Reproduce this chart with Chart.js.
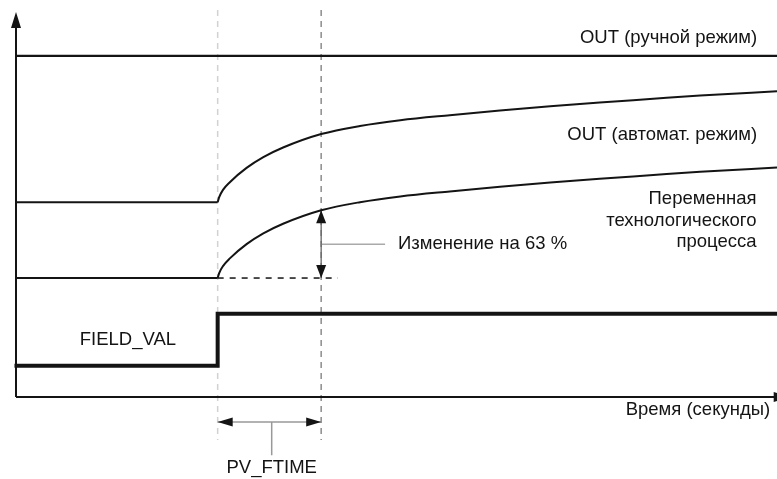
<!DOCTYPE html>
<html>
<head>
<meta charset="utf-8">
<script src="https://cdn.jsdelivr.net/npm/chart.js@4.4.0/dist/chart.umd.min.js"></script>
<style>
  html, body { margin: 0; padding: 0; background: #fff; }
  #wrap { width: 777px; height: 479px; position: relative; }
</style>
</head>
<body>
<div id="wrap"><canvas id="chart"></canvas></div>
<script>
// time axis (arbitrary units, 0..100) and value axis (0..100)
const stepTime = 26.5;      // FIELD_VAL step
const filterTime = 40.1;    // step + PV_FTIME
const endTime = 100;

const outManualLevel = 88.6;
const outAutoStart = 50.6;
const pvStart = 30.9;
const fieldValLow = 8.1;
const fieldValHigh = 21.6;

// response curves after the step
const curveTimes    = [26.5, 26.7, 27.2, 28.1, 30.3, 32.5, 35.1, 40.1, 45.2, 50.5, 57.0, 63.6, 70.2, 76.7, 83.3, 89.9, 100];
const outAutoValues = [50.6, 51.9, 53.8, 55.8, 59.5, 62.3, 64.8, 68.3, 70.4, 71.9, 73.2, 74.4, 75.5, 76.5, 77.4, 78.3, 79.4];
const pvValues      = [30.9, 32.2, 34.0, 36.0, 39.7, 42.5, 45.0, 48.5, 50.6, 52.1, 53.4, 54.6, 55.7, 56.7, 57.6, 58.5, 59.6];

const ink = "#141414";
const font = "18.5px 'Liberation Sans', Arial, sans-serif";

const pts = (xs, ys) => xs.map((x, i) => ({ x, y: ys[i] }));
const pvAtFilter = pvValues[curveTimes.indexOf(filterTime)];

function line(data, color, width, extra) {
  return Object.assign({
    data, borderColor: color, borderWidth: width, pointRadius: 0,
    fill: false, tension: 0, clip: false,
  }, extra || {});
}

const datasets = [
  // axes
  line([{ x: 0, y: 0 }, { x: 0, y: 98 }], ink, 2),
  line([{ x: 0, y: 0 }, { x: endTime, y: 0 }], ink, 2),
  // OUT manual
  line([{ x: 0, y: outManualLevel }, { x: endTime, y: outManualLevel }], ink, 2.2),
  // OUT auto
  line([{ x: 0, y: outAutoStart }, { x: stepTime, y: outAutoStart }], ink, 2),
  line(pts(curveTimes, outAutoValues), ink, 2, { cubicInterpolationMode: "monotone" }),
  // process variable
  line([{ x: 0, y: pvStart }, { x: stepTime, y: pvStart }], ink, 2),
  line(pts(curveTimes, pvValues), ink, 2, { cubicInterpolationMode: "monotone" }),
  // FIELD_VAL step
  line([{ x: -0.2, y: fieldValLow }, { x: stepTime, y: fieldValLow },
        { x: stepTime, y: fieldValHigh }, { x: endTime, y: fieldValHigh }], ink, 4),
  // 63 % marker
  line([{ x: filterTime, y: pvStart }, { x: filterTime, y: pvAtFilter }], "#666", 1.3),
  line([{ x: filterTime, y: 39.7 }, { x: 48.5, y: 39.7 }], "#aaa", 1.5),
  line([{ x: stepTime, y: pvStart }, { x: 42.3, y: pvStart }], ink, 1.5, { borderDash: [6, 6] }),
  // PV_FTIME span
  line([{ x: stepTime, y: -6.5 }, { x: filterTime, y: -6.5 }], "#999", 1.5),
  line([{ x: 33.6, y: -6.5 }, { x: 33.6, y: -15.1 }], "#999", 1.5),
  // dashed guides
  line([{ x: stepTime, y: 100.5 }, { x: stepTime, y: -11.2 }], "#d2d2d2", 1.5, { borderDash: [6, 5] }),
  line([{ x: filterTime, y: 100.5 }, { x: filterTime, y: -11.2 }], "#8c8c8c", 1.5, { borderDash: [6, 5] }),
];

function arrowHead(ctx, x, y, dx, dy, len, half) {
  // tip at (x,y), pointing in direction (dx,dy)
  const bx = x - dx * len, by = y - dy * len;
  ctx.beginPath();
  ctx.moveTo(x, y);
  ctx.lineTo(bx - dy * half, by + dx * half);
  ctx.lineTo(bx + dy * half, by - dx * half);
  ctx.closePath();
  ctx.fill();
}

const annotations = {
  id: "annotations",
  afterDatasetsDraw(chart) {
    const { ctx, scales: { x, y } } = chart;
    const px = (v) => x.getPixelForValue(v);
    const py = (v) => y.getPixelForValue(v);
    ctx.save();
    ctx.fillStyle = ink;
    // axis arrows
    arrowHead(ctx, px(0), py(100), 0, -1, 16, 5);
    arrowHead(ctx, px(101.8), py(0), 1, 0, 17, 5);
    // 63 % arrows
    arrowHead(ctx, px(filterTime), py(pvAtFilter), 0, -1, 13, 5);
    arrowHead(ctx, px(filterTime), py(pvStart), 0, 1, 13, 5);
    // PV_FTIME arrows
    arrowHead(ctx, px(stepTime), py(-6.5), -1, 0, 15, 4.5);
    arrowHead(ctx, px(filterTime), py(-6.5), 1, 0, 15, 4.5);

    ctx.font = font;
    ctx.textBaseline = "middle";
    ctx.textAlign = "right";
    ctx.fillText("OUT (ручной режим)", px(97.4), py(93.2));
    ctx.fillText("OUT (автомат. режим)", px(97.4), py(68.1));
    ctx.fillText("Переменная", px(97.3), py(51.4));
    ctx.fillText("технологического", px(97.3), py(45.7));
    ctx.fillText("процесса", px(97.3), py(40.3));
    ctx.fillText("Время (секунды)", px(99.1), py(-3.4));
    ctx.textAlign = "left";
    ctx.fillText("Изменение на 63 %", px(50.2), py(39.7));
    ctx.textAlign = "center";
    ctx.fillText("FIELD_VAL", px(14.7), py(14.8));
    ctx.fillText("PV_FTIME", px(33.6), py(-18.4));
    ctx.restore();
  },
};

new Chart(document.getElementById("chart"), {
  type: "line",
  data: { datasets },
  options: {
    responsive: true,
    maintainAspectRatio: false,
    animation: false,
    layout: { padding: { left: 16, right: 0, top: 12, bottom: 82 } },
    scales: {
      x: { type: "linear", min: 0, max: endTime, display: false },
      y: { type: "linear", min: 0, max: 100, display: false },
    },
    plugins: { legend: { display: false }, tooltip: { enabled: false } },
  },
  plugins: [annotations],
});
</script>
</body>
</html>
